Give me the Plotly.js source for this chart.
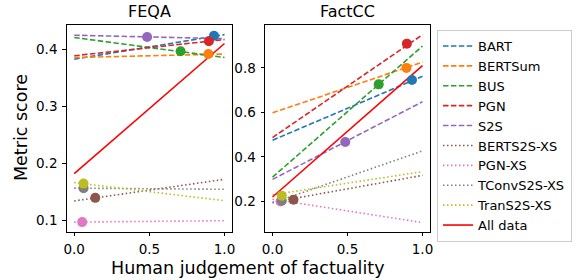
<!DOCTYPE html>
<html>
<head>
<meta charset="utf-8">
<script src="https://cdn.plot.ly/plotly-3.0.1.min.js"></script>
<style>html,body{margin:0;padding:0;background:#fff;}#chart{width:577px;height:280px;}</style>
</head>
<body>
<div id="chart"></div>
<script>
// ---- data ----
const systems = ["BART","BERTSum","BUS","PGN","S2S","BERTS2S-XS","PGN-XS","TConvS2S-XS","TranS2S-XS"];
const humanScore = [0.93, 0.893, 0.708, 0.896, 0.485, 0.14, 0.053, 0.062, 0.062];
const feqaScore = [0.424, 0.392, 0.397, 0.4145, 0.422, 0.140, 0.0975, 0.157, 0.165];
const factccScore = [0.746, 0.800, 0.726, 0.909, 0.467, 0.208, 0.200, 0.203, 0.226];
const fitX = [0, 1];
const feqaFitStart = [0.383, 0.386, 0.421, 0.389, 0.425, 0.1346, 0.0975, 0.157, 0.1667];
const feqaFitEnd   = [0.426, 0.392, 0.386, 0.4175, 0.419, 0.1725, 0.100, 0.155, 0.135];
const factccFitStart = [0.475, 0.598, 0.309, 0.487, 0.299, 0.196, 0.210, 0.193, 0.230];
const factccFitEnd   = [0.762, 0.826, 0.898, 0.949, 0.648, 0.317, 0.105, 0.427, 0.334];
const allDataFeqa = [0.1825, 0.4105];
const allDataFactcc = [0.22, 0.81];
const panelTitles = ["FEQA", "FactCC"];

// ---- styles ----
const colors = ["#1f77b4","#ff7f0e","#2ca02c","#d62728","#9467bd","#8c564b","#e377c2","#7f7f7f","#bcbd22"];
const dashes = ["5.5px,2.4px","5.5px,2.4px","5.5px,2.4px","5.5px,2.4px","5.5px,2.4px","1.5px,2.5px","1.5px,2.5px","1.5px,2.5px","1.5px,2.5px"];
const FONT = "DejaVu Sans";

const traces = [];
const panels = [
  {fitStart: feqaFitStart, fitEnd: feqaFitEnd, score: feqaScore, all: allDataFeqa, xa: "x", ya: "y"},
  {fitStart: factccFitStart, fitEnd: factccFitEnd, score: factccScore, all: allDataFactcc, xa: "x2", ya: "y2"}
];
panels.forEach((p, pi) => {
  systems.forEach((s, i) => {
    traces.push({
      type: "scatter", mode: "lines", x: fitX, y: [p.fitStart[i], p.fitEnd[i]],
      xaxis: p.xa, yaxis: p.ya, name: s, legendgroup: s, showlegend: pi === 0,
      line: {color: colors[i], width: 1.6, dash: dashes[i]}, hoverinfo: "skip"
    });
  });
});
panels.forEach((p, pi) => {
  traces.push({
    type: "scatter", mode: "lines", x: fitX, y: p.all,
    xaxis: p.xa, yaxis: p.ya, name: "All data", legendgroup: "all", showlegend: pi === 0,
    line: {color: "#ff0000", width: 1.6}
  });
});
panels.forEach((p) => {
  systems.forEach((s, i) => {
    traces.push({
      type: "scatter", mode: "markers", x: [humanScore[i]], y: [p.score[i]],
      xaxis: p.xa, yaxis: p.ya, showlegend: false, legendgroup: s,
      marker: {color: colors[i], size: 10, line: {width: 0}}
    });
  });
});

const axBase = {
  showline: true, mirror: true, linecolor: "#000", linewidth: 1,
  ticks: "outside", ticklen: 3.5, tickwidth: 1, tickcolor: "#000",
  showgrid: false, zeroline: false, tickfont: {family: FONT, size: 13.5, color: "#000"}
};
const yDom = [0.1725, 0.9125];
const layout = {
  width: 577, height: 280, margin: {l: 0, r: 0, t: 0, b: 0},
  paper_bgcolor: "#fff", plot_bgcolor: "#fff",
  font: {family: FONT, color: "#000"},
  xaxis: Object.assign({}, axBase, {domain: [0.1156, 0.4021], range: [-0.05, 1.05], tickvals: [0, 0.5, 1], tickformat: ".1f", anchor: "y", ticklabelstandoff: 2}),
  yaxis: Object.assign({}, axBase, {domain: yDom, range: [0.0807, 0.4438], tickvals: [0.1, 0.2, 0.3, 0.4], tickformat: ".1f", anchor: "x", ticklabelstandoff: 2}),
  xaxis2: Object.assign({}, axBase, {domain: [0.4593, 0.7452], range: [-0.05, 1.05], tickvals: [0, 0.5, 1], tickformat: ".1f", anchor: "y2", ticklabelstandoff: 2}),
  yaxis2: Object.assign({}, axBase, {domain: yDom, range: [0.064, 0.995], tickvals: [0.2, 0.4, 0.6, 0.8], tickformat: ".1f", anchor: "x2", ticklabelstandoff: 2}),
  showlegend: true,
  legend: {
    x: 437/577, y: (280-30)/280, xanchor: "left", yanchor: "top",
    bgcolor: "#fff", bordercolor: "#cccccc", borderwidth: 1,
    font: {family: FONT, size: 13, color: "#000"}, tracegroupgap: 0
  },
  annotations: [
    {text: panelTitles[0], x: 149.3/577, y: (280-12)/280, xref: "paper", yref: "paper", showarrow: false, xanchor: "center", yanchor: "middle", font: {family: FONT, size: 16, color: "#000"}},
    {text: panelTitles[1], x: 347.5/577, y: (280-12)/280, xref: "paper", yref: "paper", showarrow: false, xanchor: "center", yanchor: "middle", font: {family: FONT, size: 16, color: "#000"}},
    {text: "Metric score", x: 21/577, y: (280-128)/280, xref: "paper", yref: "paper", showarrow: false, textangle: -90, xanchor: "center", yanchor: "middle", font: {family: FONT, size: 17.5, color: "#000"}},
    {text: "Human judgement of factuality", x: 248.3/577, y: (280-268)/280, xref: "paper", yref: "paper", showarrow: false, xanchor: "center", yanchor: "middle", font: {family: FONT, size: 17.5, color: "#000"}}
  ]
};
Plotly.newPlot("chart", traces, layout, {displayModeBar: false, staticPlot: true});
</script>
</body>
</html>
